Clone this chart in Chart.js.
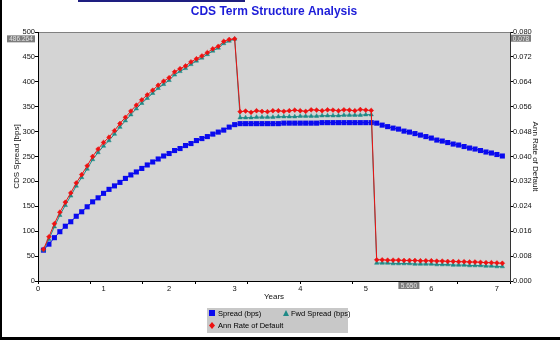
<!DOCTYPE html>
<html>
<head>
<meta charset="utf-8">
<script src="https://cdn.jsdelivr.net/npm/chart.js@4.4.0/dist/chart.umd.min.js"></script>
<style>
  body { margin: 0; background: #fff; }
  #wrap { width: 560px; height: 340px; }
</style>
</head>
<body>
<div id="wrap"><canvas id="cdsChart" width="560" height="340"></canvas></div>
<script>
// monthly points, Spread and Fwd Spread in bps, default rate as a fraction
const spread = [62, 74, 87, 99, 110, 119, 130, 139, 149, 159, 167, 176, 184, 191, 198, 206, 213, 219, 226, 233, 239, 245, 251, 256, 262, 266, 272, 276, 282, 286, 290, 295, 299, 303, 309, 314,
  316, 316, 316, 316, 316, 316, 316, 316, 317, 317, 317, 317, 317, 317, 317, 318, 318, 318, 318, 318, 318, 318, 318, 318, 318,
  317, 313, 310, 307, 305, 301, 299, 296, 293, 290, 287, 283, 281, 278, 275, 273, 270, 267, 265, 262, 259, 257, 254, 251];
const fwdSpread = [62, 84, 109, 132, 152, 171, 191, 208, 225, 244, 258, 271, 282, 295, 309, 322, 334, 346, 357, 367, 377, 387, 395, 403, 414, 421, 427, 435, 442, 448, 455, 462, 468, 477, 482, 486,
  328, 328, 328, 329, 329, 329, 329, 330, 330, 330, 330, 331, 331, 331, 331, 332, 332, 332, 332, 333, 333, 333, 333, 334, 334,
  36, 36, 36, 35, 35, 35, 35, 34, 34, 34, 34, 33, 33, 33, 32, 32, 32, 31, 31, 31, 30, 30, 29, 29];
const annRate = [0.0102, 0.0142, 0.0184, 0.0221, 0.0253, 0.0283, 0.0315, 0.0342, 0.0370, 0.0400, 0.0424, 0.0445, 0.0462, 0.0483, 0.0506, 0.0526, 0.0546, 0.0565, 0.0582, 0.0598, 0.0613, 0.0629, 0.0642, 0.0653, 0.0672, 0.0682, 0.0691, 0.0704, 0.0714, 0.0723, 0.0734, 0.0746, 0.0754, 0.0770, 0.0776, 0.0778,
  0.0544, 0.0546, 0.0542, 0.0547, 0.0545, 0.0544, 0.0547, 0.0547, 0.0545, 0.0547, 0.0549, 0.0547, 0.0545, 0.0550, 0.0549, 0.0547, 0.0550, 0.0549, 0.0547, 0.0550, 0.0549, 0.0547, 0.0551, 0.0549, 0.0548,
  0.0068, 0.0068, 0.0067, 0.0067, 0.0067, 0.0066, 0.0066, 0.0066, 0.0065, 0.0065, 0.0065, 0.0064, 0.0064, 0.0063, 0.0063, 0.0062, 0.0062, 0.0061, 0.0061, 0.0060, 0.0059, 0.0059, 0.0058, 0.0057];
const years = spread.map((_, i) => (i + 1) / 12);

const seriesNames = ['Spread (bps)', 'Fwd Spread (bps)', 'Ann Rate of Default'];
const cursor = { x: 5.65, y: 486.264, y1: 0.078 };

const smallFont = "'Liberation Sans', Arial, sans-serif";

const pts = (vals) => vals.map((v, i) => ({ x: years[i], y: v }));

// gray plot area, top border, frame and the title
const backdrop = {
  id: 'backdrop',
  beforeDraw(chart) {
    const { ctx, chartArea: a } = chart;
    ctx.save();
    ctx.fillStyle = '#fff';
    ctx.fillRect(0, 0, chart.width, chart.height);
    ctx.fillStyle = '#d4d4d4';
    ctx.fillRect(a.left, a.top, a.right - a.left, a.bottom - a.top);
    ctx.fillStyle = '#808080';
    ctx.fillRect(a.left, a.top, a.right - a.left, 1);
    ctx.fillStyle = '#1e1e80';
    ctx.fillRect(78, 0, 167, 2);
    ctx.fillStyle = '#000';
    ctx.fillRect(0, 0, 2, chart.height);
    ctx.fillRect(0, chart.height - 3, chart.width, 3);
    ctx.font = "bold 12px 'Liberation Sans', Arial, sans-serif";
    ctx.fillStyle = '#1c1cd8';
    ctx.textAlign = 'center';
    ctx.textBaseline = 'middle';
    ctx.fillText('CDS Term Structure Analysis', 274, 12);
    ctx.restore();
  }
};

// cursor read-outs and legend box
const extras = {
  id: 'extras',
  afterDraw(chart) {
    const { ctx, scales } = chart;
    ctx.save();
    ctx.font = '6.5px ' + smallFont;
    ctx.textBaseline = 'middle';
    const tag = (txt, x, y, w) => {
      ctx.fillStyle = '#7c7c7c';
      ctx.fillRect(x, y - 3.5, w, 7);
      ctx.fillStyle = '#e4e4e4';
      ctx.textAlign = 'center';
      ctx.fillText(txt, x + w / 2, y + 0.5);
    };
    tag(cursor.y.toFixed(3), 7, scales.y.getPixelForValue(cursor.y), 28);
    tag(cursor.y1.toFixed(3), 511, scales.y1.getPixelForValue(cursor.y1), 20);
    const cx = scales.x.getPixelForValue(cursor.x);
    tag(cursor.x.toFixed(3), cx - 10, 285.5, 21);

    // legend
    const ds = chart.data.datasets;
    ctx.fillStyle = '#c8c8c8';
    ctx.fillRect(207, 308, 141, 25);
    ctx.font = '7.5px ' + smallFont;
    ctx.textAlign = 'left';
    ctx.fillStyle = ds[0].borderColor;
    ctx.fillRect(209, 310, 6, 6);
    ctx.fillStyle = ds[1].borderColor;
    ctx.beginPath();
    ctx.moveTo(286, 310); ctx.lineTo(289, 316); ctx.lineTo(283, 316); ctx.closePath();
    ctx.fill();
    ctx.fillStyle = ds[2].borderColor;
    ctx.beginPath();
    ctx.moveTo(212, 322); ctx.lineTo(215, 325.5); ctx.lineTo(212, 329); ctx.lineTo(209, 325.5); ctx.closePath();
    ctx.fill();
    ctx.fillStyle = '#000';
    ctx.fillText(ds[0].label, 218, 313.5);
    ctx.fillText(ds[1].label, 291, 313.5);
    ctx.fillText(ds[2].label, 218, 326);
    ctx.restore();
  }
};

const tickFont = { family: smallFont, size: 7.5 };
const titleFont = { family: smallFont, size: 8 };

const ctx = document.getElementById('cdsChart').getContext('2d');
const cdsChart = new Chart(ctx, {
  type: 'line',
  data: {
    datasets: [
      {
        label: seriesNames[0],
        data: pts(spread),
        yAxisID: 'y',
        borderColor: '#0a0aee',
        backgroundColor: '#0a0aee',
        borderWidth: 1,
        pointStyle: 'rect',
        pointRadius: 3.6,
        pointBorderWidth: 0,
        order: 3
      },
      {
        label: seriesNames[1],
        data: pts(fwdSpread),
        yAxisID: 'y',
        borderColor: '#1f8a87',
        backgroundColor: '#1f8a87',
        borderWidth: 1,
        pointStyle: 'triangle',
        pointRadius: 2.5,
        pointBorderWidth: 0.5,
        order: 2
      },
      {
        label: seriesNames[2],
        data: pts(annRate),
        yAxisID: 'y1',
        borderColor: '#ee1111',
        backgroundColor: '#ee1111',
        borderWidth: 1,
        pointStyle: 'rectRot',
        pointRadius: 2.4,
        pointBorderWidth: 0.5,
        order: 1
      }
    ]
  },
  options: {
    responsive: false,
    animation: false,
    devicePixelRatio: 1,
    layout: { padding: { top: 32, left: 0, right: 0, bottom: 37 } },
    plugins: {
      legend: { display: false },
      tooltip: { enabled: false }
    },
    scales: {
      x: {
        type: 'linear',
        min: 0,
        max: 7.2,
        afterFit: (s) => { s.height = 22; },
        afterBuildTicks: (s) => {
          const t = [];
          for (let i = 0; i <= 36; i++) t.push({ value: i * 0.2 });
          s.ticks = t;
        },
        grid: {
          drawOnChartArea: false,
          tickLength: 3,
          tickColor: (c) => {
            const v = c.tick ? c.tick.value / 0.8 : 0.5;
            return Math.abs(v - Math.round(v)) < 1e-6 ? '#000' : 'rgba(0,0,0,0)';
          }
        },
        border: { color: '#000', width: 1 },
        ticks: {
          autoSkip: false,
          maxRotation: 0,
          padding: 0,
          color: '#111',
          font: tickFont,
          callback: (v) => Math.abs(v - Math.round(v)) < 1e-6 ? String(Math.round(v)) : ''
        },
        title: {
          display: true,
          text: 'Years',
          color: '#111',
          font: titleFont,
          padding: { top: 0, bottom: 1 }
        }
      },
      y: {
        position: 'left',
        min: 0,
        max: 500,
        afterFit: (s) => { s.width = 38; },
        grid: { drawOnChartArea: false, tickLength: 3, tickColor: '#000' },
        border: { color: '#000', width: 1 },
        ticks: {
          stepSize: 50,
          padding: 0,
          color: '#111',
          font: tickFont
        },
        title: {
          display: true,
          text: 'CDS Spread [bps]',
          color: '#111',
          font: titleFont,
          padding: { top: 12, bottom: 0 }
        }
      },
      y1: {
        position: 'right',
        min: 0,
        max: 0.08,
        afterFit: (s) => { s.width = 50; },
        grid: { drawOnChartArea: false, tickLength: 3, tickColor: '#000' },
        border: { color: '#333', width: 1 },
        ticks: {
          stepSize: 0.008,
          padding: 0,
          color: '#111',
          font: tickFont,
          callback: (v) => v.toFixed(3)
        },
        title: {
          display: true,
          text: 'Ann Rate of Default',
          color: '#111',
          font: titleFont,
          padding: { top: 20, bottom: 0 }
        }
      }
    }
  },
  plugins: [backdrop, extras]
});
</script>
</body>
</html>
